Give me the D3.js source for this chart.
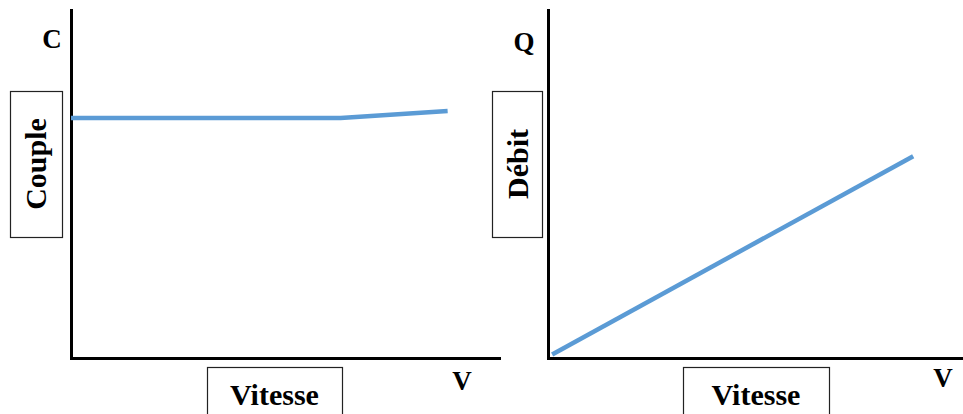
<!DOCTYPE html>
<html>
<head>
<meta charset="utf-8">
<script src="https://cdn.jsdelivr.net/npm/d3@7"></script>
<style>
  html, body { margin: 0; padding: 0; background: #fff; }
  svg { display: block; }
  text { font-family: "Liberation Serif", "Times New Roman", serif; font-weight: bold; fill: #000; }
</style>
</head>
<body>
<svg id="chart" width="963" height="414"></svg>
<script>
// Torque vs speed: flat, then a slight rise at high speed
const vitesseCouple = [0, 63, 88];
const couple = [69, 69, 71];

// Flow vs speed: proportional
const vitesseDebit = [1, 88];
const debit = [1, 58];

const axisX = "V";
const axisYLeft = "C";
const axisYRight = "Q";
const titleX = "Vitesse";
const titleLeft = "Couple";
const titleRight = "Débit";

const svg = d3.select("#chart");
const lineColor = "#5b9bd5";

const panels = [
  {
    x0: 71, x1: 499, yTop: 10, yBottom: 358,
    xs: vitesseCouple, ys: couple,
    yLetter: axisYLeft, yTitle: titleLeft,
    letterPos: [52, 48], yBox: [10, 91, 52, 146], xBox: [207, 367, 135, 60],
    vPos: [462, 390], titleShift: 10
  },
  {
    x0: 548, x1: 963, yTop: 10, yBottom: 358,
    xs: vitesseDebit, ys: debit,
    yLetter: axisYRight, yTitle: titleRight,
    letterPos: [524, 51], yBox: [492, 91, 50, 146], xBox: [683, 367, 146, 60],
    vPos: [943, 387], titleShift: 11
  }
];

panels.forEach(p => {
  const x = d3.scaleLinear().domain([0, 100]).range([p.x0, p.x1]);
  const y = d3.scaleLinear().domain([0, 100]).range([p.yBottom, p.yTop]);
  const g = svg.append("g");

  // Axes: bare lines, no ticks
  const xAxis = g.append("g")
    .attr("transform", `translate(0,${p.yBottom})`)
    .call(d3.axisBottom(x).tickValues([]).tickSizeOuter(0));
  const yAxis = g.append("g")
    .attr("transform", `translate(${p.x0},0)`)
    .call(d3.axisLeft(y).tickValues([]).tickSizeOuter(0));
  [xAxis, yAxis].forEach(a => a.select(".domain")
    .attr("stroke", "#000").attr("stroke-width", 3).attr("stroke-linecap", "square"));

  // Curve
  const pts = p.xs.map((v, i) => [v, p.ys[i]]);
  g.append("path")
    .datum(pts)
    .attr("fill", "none")
    .attr("stroke", lineColor)
    .attr("stroke-width", 4.5)
    .attr("d", d3.line().x(d => x(d[0])).y(d => y(d[1])));

  // Axis letter
  g.append("text")
    .attr("x", p.letterPos[0]).attr("y", p.letterPos[1])
    .attr("text-anchor", "middle")
    .attr("font-size", 27)
    .text(p.yLetter);

  // Y title box
  const [bx, by, bw, bh] = p.yBox;
  g.append("rect")
    .attr("x", bx + 0.5).attr("y", by + 0.5).attr("width", bw).attr("height", bh)
    .attr("fill", "#fff").attr("stroke", "#222").attr("stroke-width", 1.2);
  g.append("text")
    .attr("transform", `translate(${bx + bw / 2 + p.titleShift},${by + bh / 2}) rotate(-90)`)
    .attr("text-anchor", "middle")
    .attr("font-size", 30)
    .text(p.yTitle);

  // X title box
  const [hx, hy, hw, hh] = p.xBox;
  g.append("rect")
    .attr("x", hx + 0.5).attr("y", hy + 0.5).attr("width", hw).attr("height", hh)
    .attr("fill", "#fff").attr("stroke", "#222").attr("stroke-width", 1.2);
  g.append("text")
    .attr("x", hx + hw / 2).attr("y", 405)
    .attr("text-anchor", "middle")
    .attr("font-size", 30)
    .text(titleX);

  // Speed letter
  g.append("text")
    .attr("x", p.vPos[0]).attr("y", p.vPos[1])
    .attr("text-anchor", "middle")
    .attr("font-size", 27)
    .text(axisX);
});
</script>
</body>
</html>
